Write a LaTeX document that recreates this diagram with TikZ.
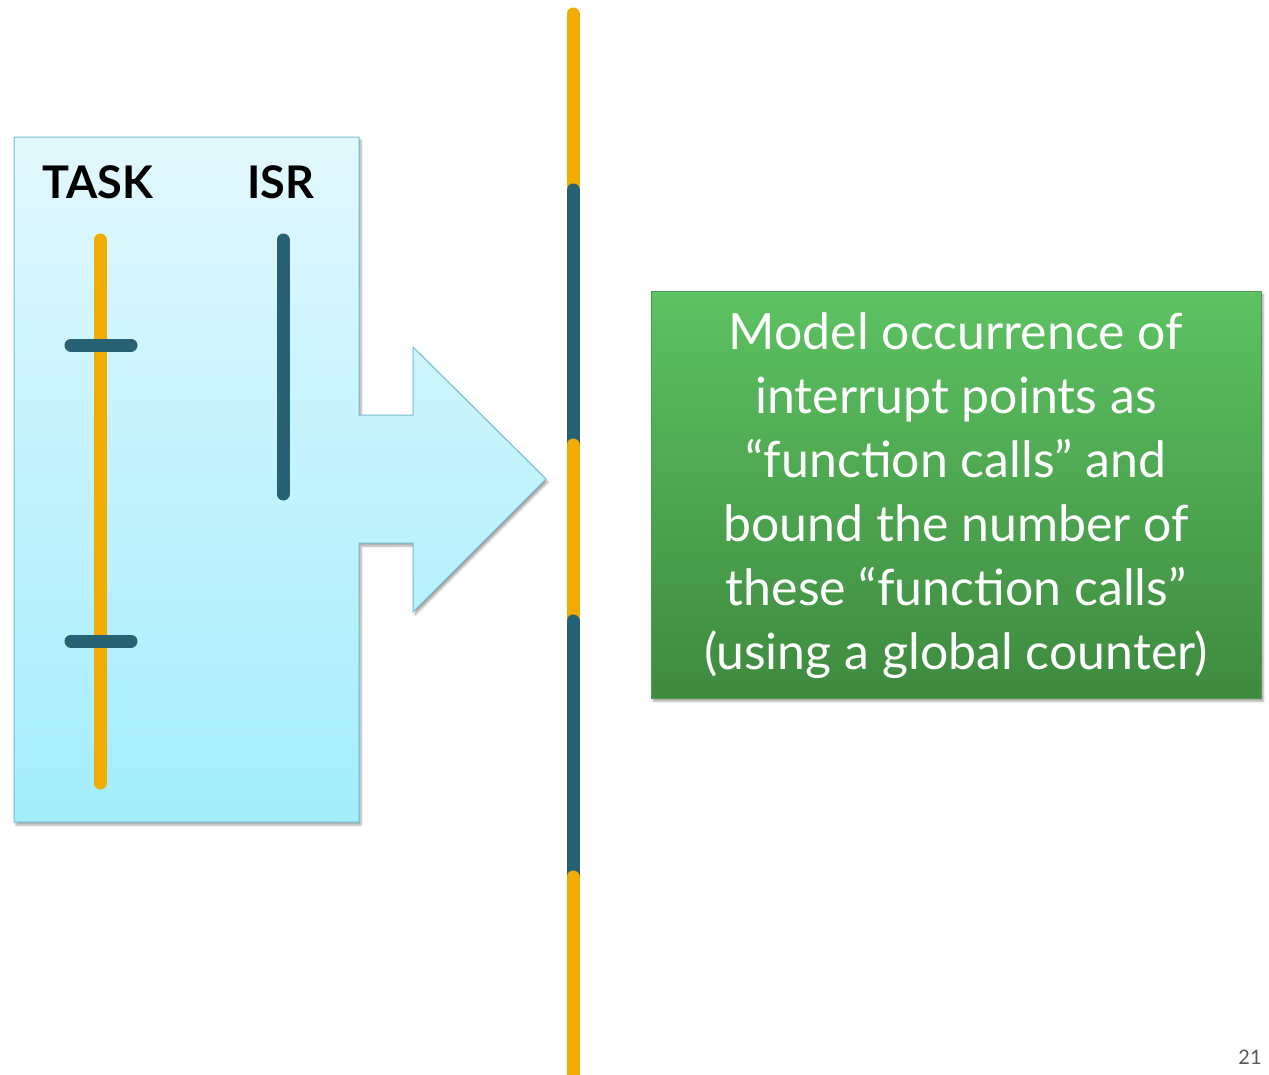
\documentclass[tikz,border=0pt]{standalone}
\usepackage{fontspec}
\setmainfont{Lato}
\usetikzlibrary{shadows.blur}
\definecolor{orng}{HTML}{F0AC00}
\definecolor{teal2}{HTML}{266273}
\definecolor{bluetop}{HTML}{E2F8FD}
\definecolor{bluebot}{HTML}{A3EDFD}
\definecolor{blueedge}{HTML}{72BDD3}
\definecolor{greentop}{HTML}{5DC262}
\definecolor{greenbot}{HTML}{3E8A3F}
\tikzset{
  bar/.style={line width=13pt, line cap=round},
  obar/.style={bar, draw=orng},
  tbar/.style={bar, draw=teal2},
  lbl/.style={font=\bfseries\fontsize{45}{50}\selectfont, text=black, inner sep=0pt},
  panel/.style={top color=bluetop, bottom color=bluebot, draw=blueedge, line width=1pt,
    blur shadow={shadow xshift=2pt, shadow yshift=-3pt, shadow blur steps=6, shadow opacity=35}},
  gbox/.style={top color=greentop, bottom color=greenbot, draw=greenbot!90!white, line width=0.6pt,
    blur shadow={shadow xshift=2pt, shadow yshift=-3pt, shadow blur steps=6, shadow opacity=35}},
}
\begin{document}
\begin{tikzpicture}[x=1pt, y=-1pt]
\useasboundingbox (0,0) rectangle (1269,1074);
% panel with arrow
\path[panel] (14,137) -- (359,137) -- (359,415) -- (413,415) -- (413,347) -- (546,479)
  -- (413,612) -- (413,543) -- (359,543) -- (359,822) -- (14,822) -- cycle;
% labels
\node[lbl] (task) at (98,182) {TASK};
\node[lbl] (isr) at (281,182) {ISR};
% task line and ticks
\draw[obar] (100,240) -- (100,783);
\draw[tbar] (71,345) -- (131,345);
\draw[tbar] (71,641) -- (131,641);
% isr line
\draw[tbar] (283,240) -- (283,494);
% timeline
\draw[obar] (573,14) -- (573,200);
\draw[tbar] (573,190) -- (573,450);
\draw[obar] (573,445) -- (573,630);
\draw[tbar] (573,621) -- (573,885);
\draw[obar] (573,877) -- (573,1090);
% green box
\node[gbox, minimum width=610pt, minimum height=407pt, inner sep=0pt, anchor=north west] (box) at (651,291) {};
\node[text=white, align=center, font=\fontsize{50}{64}\selectfont, inner sep=0pt] (txt) at (956,496)
  {Model occurrence of\\interrupt points as\\“function calls” and\\bound the number of\\these “function calls”\\(using a global counter)};
% page number
\node[text=black!65, font=\fontsize{20}{22}\selectfont, anchor=north, inner sep=0pt] (pg) at (1250,1050) {21};
\end{tikzpicture}
\end{document}
